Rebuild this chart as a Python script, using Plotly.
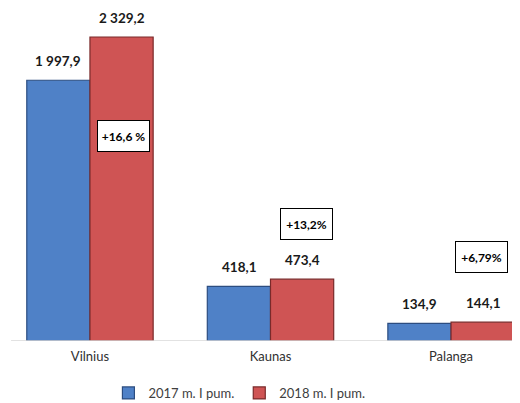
import plotly.graph_objects as go

categories = ["Vilnius", "Kaunas", "Palanga"]
values_2017 = [1997.9, 418.1, 134.9]
values_2018 = [2329.2, 473.4, 144.1]
series_names = ["2017 m. I pum.", "2018 m. I pum."]
growth_labels = ["+16,6 %", "+13,2%", "+6,79%"]
growth_y = [1571, 897, 644]
growth_x_offset = [0.183, 0.199, 0.166]


def fmt(v):
    s = f"{v:,.1f}"
    return s.replace(",", " ").replace(".", ",")


xpos = list(range(len(categories)))
FONT = "Lato, Open Sans, sans-serif"
BW = 0.35

fig = go.Figure()
fig.add_trace(go.Bar(
    x=xpos, y=values_2017, name=series_names[0], width=BW, offset=-BW,
    marker=dict(color="#4F81C7", line=dict(color="#2C4D80", width=1.2)),
))
fig.add_trace(go.Bar(
    x=xpos, y=values_2018, name=series_names[1], width=BW, offset=0,
    marker=dict(color="#CF5454", line=dict(color="#7A2A2A", width=1.2)),
))

for i in range(len(categories)):
    for vals, off in ((values_2017, -BW / 2), (values_2018, BW / 2)):
        fig.add_annotation(
            x=xpos[i] + off, y=vals[i], text=f"<b>{fmt(vals[i])}</b>",
            showarrow=False, yanchor="bottom", yshift=9,
            font=dict(family=FONT, size=13.5, color="#1a1a1a"),
        )

for i, lab in enumerate(growth_labels):
    fig.add_annotation(
        x=xpos[i] + growth_x_offset[i], y=growth_y[i], text=f"<b>{lab}</b>",
        showarrow=False, font=dict(family=FONT, size=12, color="#000"),
        bgcolor="white", bordercolor="#000", borderwidth=1, borderpad=1,
        width=49, height=28,
    )

fig.update_layout(
    width=512, height=395,
    margin=dict(l=0, r=0, t=2, b=62, autoexpand=False),
    paper_bgcolor="white", plot_bgcolor="white",
    barmode="overlay",
    font=dict(family=FONT, color="#404040"),
    xaxis=dict(
        range=[-0.454, 2.382], tickvals=xpos, ticktext=categories,
        showgrid=False, zeroline=False, showline=False, ticks="",
        ticklabelstandoff=6,
        tickfont=dict(size=13, color="#303030"),
    ),
    yaxis=dict(range=[0, 2536], showgrid=False, zeroline=False,
               showticklabels=False, showline=False),
    legend=dict(orientation="h", x=0.452, xanchor="center", y=-0.157,
                yanchor="middle", font=dict(size=13, color="#404040"),
                itemwidth=30, traceorder="normal"),
    showlegend=True,
)
fig.add_shape(type="line", xref="paper", yref="y", x0=0.006, x1=1.0, y0=0, y1=0,
              line=dict(color="#D9D9D9", width=1.5))

fig.write_html("out.html")
